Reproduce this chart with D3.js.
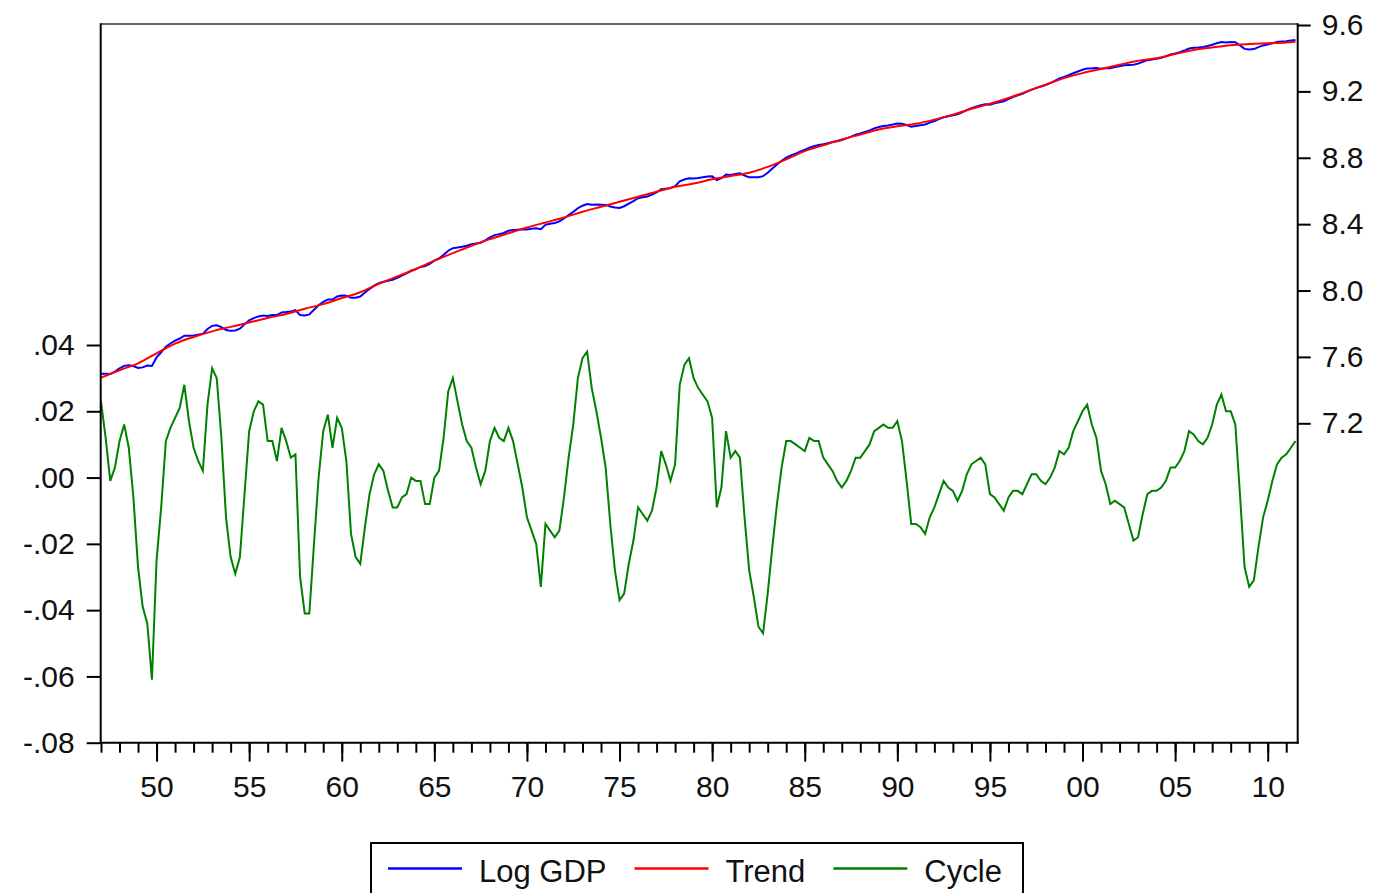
<!DOCTYPE html>
<html><head><meta charset="utf-8">
<script src="https://cdn.jsdelivr.net/npm/d3@7"></script>
<style>html,body{margin:0;padding:0;background:#fff;} svg{display:block;}</style>
</head><body><svg id="chart" width="1374" height="893"></svg>
<script>
// ---------------- data ----------------
const startYear = 1947; // 1947Q1 .. 2011Q3, quarterly
const cycle = [
 .023,.012,-.001,.003, .011,.016,.009,-.006, -.027,-.039,-.044,-.061, -.025,-.009,.011,.015,
 .018,.021,.028,.017, .009,.005,.002,.022, .033,.030,.012,-.012, -.024,-.029,-.024,-.005,
 .014,.020,.023,.022, .011,.011,.005,.015, .011,.006,.007,-.030, -.041,-.041,-.020,.000,
 .014,.019,.009,.018, .015,.005,-.017,-.024, -.026,-.015,-.005,.001, .004,.002,-.004,-.009,
 -.009,-.006,-.005,.000, -.001,-.001,-.008,-.008, .000,.002,.012,.026, .030,.023,.016,.011,
 .009,.003,-.002,.002, .011,.015,.012,.011, .015,.011,.004,-.003, -.012,-.016,-.020,-.033,
 -.014,-.016,-.018,-.016, -.006,.006,.016,.030, .036,.038,.027,.020, .012,.003,-.014,-.028,
 -.037,-.035,-.026,-.019, -.009,-.011,-.013,-.010, -.003,.008,.004,-.001, .004,.028,.034,.036,
 .030,.027,.025,.023, .018,-.009,-.003,.014, .006,.008,.006,-.012, -.028,-.036,-.045,-.047,
 -.035,-.021,-.008,.003, .011,.011,.010,.009, .008,.012,.011,.011, .006,.004,.002,-.001,
 -.003,-.001,.002,.006, .006,.008,.010,.014, .015,.016,.015,.015, .017,.011,-.001,-.014,
 -.014,-.015,-.017,-.012, -.009,-.005,-.001,-.003, -.004,-.007,-.004,.001, .004,.005,.006,.004,
 -.005,-.006,-.008,-.010, -.006,-.004,-.004,-.005, -.002,.001,.001,-.001, -.002,.000,.003,.008,
 .007,.009,.014,.017, .020,.022,.016,.012, .002,-.002,-.008,-.007, -.008,-.009,-.014,-.019,
 -.018,-.011,-.005,-.004, -.004,-.003,-.001,.003, .003,.005,.008,.014, .013,.011,.010,.012,
 .016,.022,.025,.020, .020,.016,-.005,-.027, -.033,-.031,-.021,-.012, -.007,-.001,.004,.006,
 .007,.009,.011
];
const logGDP = [
 7.498,7.498,7.497,7.512, 7.531,7.546,7.550,7.545, 7.534,7.537,7.548,7.546, 7.597,7.628,7.662,7.681,
 7.698,7.711,7.728,7.727, 7.729,7.734,7.739,7.768, 7.787,7.791,7.780,7.762, 7.757,7.759,7.770,7.796,
 7.821,7.834,7.844,7.850, 7.846,7.852,7.852,7.868, 7.870,7.873,7.882,7.852, 7.849,7.856,7.884,7.911,
 7.932,7.946,7.946,7.964, 7.970,7.969,7.956,7.957, 7.964,7.988,8.010,8.029, 8.044,8.053,8.059,8.065,
 8.076,8.090,8.103,8.119, 8.129,8.142,8.147,8.160, 8.180,8.193,8.215,8.240, 8.255,8.259,8.264,8.270,
 8.279,8.283,8.288,8.302, 8.321,8.334,8.340,8.347, 8.360,8.365,8.367,8.368, 8.368,8.372,8.375,8.370,
 8.396,8.402,8.407,8.417, 8.434,8.455,8.474,8.496, 8.511,8.521,8.517,8.518, 8.517,8.516,8.506,8.500,
 8.498,8.508,8.524,8.539, 8.556,8.562,8.567,8.578, 8.592,8.611,8.614,8.617, 8.629,8.658,8.669,8.676,
 8.675,8.678,8.683,8.687, 8.688,8.666,8.677,8.699, 8.696,8.703,8.706,8.693, 8.682,8.683,8.683,8.689,
 8.710,8.735,8.760,8.782, 8.801,8.814,8.825,8.837, 8.848,8.861,8.869,8.877, 8.881,8.888,8.895,8.900,
 8.907,8.917,8.927,8.939, 8.946,8.956,8.965,8.977, 8.985,8.991,8.995,9.000, 9.007,9.005,8.997,8.987,
 8.991,8.996,9.001,9.012, 9.021,9.033,9.044,9.050, 9.056,9.062,9.074,9.087, 9.099,9.108,9.116,9.122,
 9.120,9.128,9.135,9.141, 9.154,9.166,9.176,9.185, 9.198,9.211,9.221,9.229, 9.238,9.250,9.263,9.278,
 9.287,9.297,9.309,9.320, 9.330,9.338,9.339,9.341, 9.337,9.339,9.340,9.347, 9.352,9.357,9.359,9.360,
 9.367,9.378,9.388,9.392, 9.396,9.403,9.412,9.422, 9.428,9.436,9.446,9.458, 9.463,9.465,9.468,9.473,
 9.481,9.490,9.497,9.495, 9.498,9.496,9.477,9.456, 9.452,9.455,9.467,9.477, 9.483,9.490,9.497,9.500,
 9.502,9.506,9.510
];
const trendYears = d3.range(1947, 2012).concat([2011.5]);
const trend = [
 7.475,7.520,7.561,7.622,7.680,7.720,7.754,7.781,7.807,7.835,7.859,7.890,7.918,7.955,7.990,8.040,
 8.085,8.130,8.180,8.225,8.270,8.310,8.345,8.380,8.410,8.440,8.475,8.505,8.535,8.565,8.595,8.625,
 8.645,8.670,8.690,8.710,8.745,8.790,8.840,8.875,8.910,8.940,8.970,8.990,9.005,9.030,9.060,9.095,
 9.125,9.160,9.200,9.240,9.280,9.310,9.335,9.360,9.385,9.400,9.425,9.450,9.465,9.478,9.485,9.490,
 9.495,9.499
];
const leftTicks = [-0.08,-0.06,-0.04,-0.02,0,0.02,0.04];
const rightTicks = [7.2,7.6,8.0,8.4,8.8,9.2,9.6];
const minorYears = d3.range(1947, 2012);
const majorYears = [1950,1955,1960,1965,1970,1975,1980,1985,1990,1995,2000,2005,2010];
const seriesNames = ["Log GDP","Trend","Cycle"];
const seriesColors = ["#0000ff","#ff0000","#008000"];

// ---------------- drawing ----------------
const svg = d3.select("#chart");
const FONT = "'Liberation Sans', Arial, sans-serif";
const L = 100.7, R = 1297.7, T = 24, B = 742.7;

const x = d3.scaleLinear().domain([1947, 2011.5]).range([101, 1295.5]);
const yL = d3.scaleLinear().domain([-0.08, 0.04]).range([742.7, 345]);
const yR = d3.scaleLinear().domain([7.2, 9.6]).range([423.3, 25]);

const qTime = i => startYear + i / 4;

// series
const lineR = d3.line().x(d => x(d[0])).y(d => yR(d[1]));
const lineL = d3.line().x(d => x(d[0])).y(d => yL(d[1]));

svg.append("path")
  .attr("d", lineR(logGDP.map((v, i) => [qTime(i), v])))
  .attr("fill", "none").attr("stroke", seriesColors[0]).attr("stroke-width", 2);
svg.append("path")
  .attr("d", lineR.curve(d3.curveMonotoneX)(trend.map((v, i) => [trendYears[i], v])))
  .attr("fill", "none").attr("stroke", seriesColors[1]).attr("stroke-width", 2);
svg.append("path")
  .attr("d", lineL(cycle.map((v, i) => [qTime(i), v])))
  .attr("fill", "none").attr("stroke", seriesColors[2]).attr("stroke-width", 2);

// axes
const fmtL = d => d3.format(".2f")(d).replace("\u2212", "-").replace("0.", ".");
function styleAxis(g) {
  g.select(".domain").remove();
  g.selectAll(".tick line").attr("stroke", "#000").attr("stroke-width", 2);
  g.selectAll(".tick text").attr("fill", "#111").style("font-family", FONT).style("font-size", "30px");
}
svg.append("g").attr("transform", `translate(${L},0)`)
  .call(d3.axisLeft(yL).tickValues(leftTicks).tickSize(14).tickPadding(12).tickFormat(fmtL))
  .call(styleAxis);
svg.append("g").attr("transform", `translate(${R},0)`)
  .call(d3.axisRight(yR).tickValues(rightTicks).tickSize(13).tickPadding(11).tickFormat(d3.format(".1f")))
  .call(styleAxis);
svg.append("g").attr("transform", `translate(0,${B})`)
  .call(d3.axisBottom(x).tickValues(minorYears).tickSize(10).tickFormat(""))
  .call(styleAxis);
svg.append("g").attr("transform", `translate(0,${B})`)
  .call(d3.axisBottom(x).tickValues(majorYears).tickSize(19).tickPadding(14)
        .tickFormat(d => String(d % 100).padStart(2, "0")))
  .call(styleAxis);

// frame
svg.append("line").attr("x1", L).attr("x2", R).attr("y1", T).attr("y2", T)
  .attr("stroke", "#333").attr("stroke-width", 1.5);
svg.append("line").attr("x1", L).attr("x2", L).attr("y1", T - 0.7).attr("y2", B + 1)
  .attr("stroke", "#000").attr("stroke-width", 2);
svg.append("line").attr("x1", R).attr("x2", R).attr("y1", T - 0.7).attr("y2", B + 1)
  .attr("stroke", "#000").attr("stroke-width", 2);
svg.append("line").attr("x1", L - 1).attr("x2", R + 1).attr("y1", B).attr("y2", B)
  .attr("stroke", "#000").attr("stroke-width", 2);

// legend
const leg = svg.append("g");
leg.append("rect").attr("x", 371).attr("y", 843).attr("width", 652).attr("height", 80)
  .attr("fill", "#fff").attr("stroke", "#000").attr("stroke-width", 2);
let cx = 388;
seriesNames.forEach((name, i) => {
  leg.append("line").attr("x1", cx).attr("x2", cx + 74).attr("y1", 868.5).attr("y2", 868.5)
    .attr("stroke", seriesColors[i]).attr("stroke-width", 2.5);
  const t = leg.append("text").attr("x", cx + 91).attr("y", 881.5)
    .style("font-family", FONT).style("font-size", "31px").attr("fill", "#111").text(name);
  cx = cx + 91 + t.node().getComputedTextLength() + 28;
});
</script>
</body></html>
